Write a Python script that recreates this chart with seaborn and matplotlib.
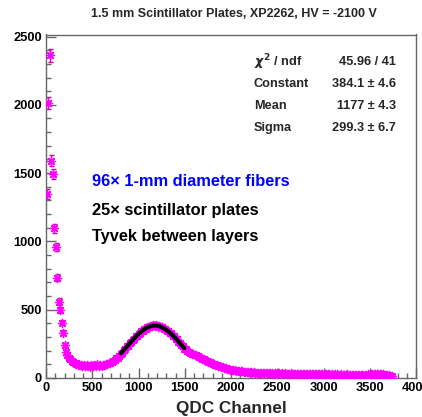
import numpy as np
import pandas as pd
import matplotlib
matplotlib.use("Agg")
import matplotlib.pyplot as plt
from matplotlib.ticker import MultipleLocator
import seaborn as sns

# ---- data (histogram contents, bin width 16 starting at 0) ----
counts = [
    1345, 2015, 2363, 1590, 1495, 1095, 958, 735, 560, 500,
    405, 330, 240, 193, 170, 150, 138, 125, 118, 108,
    101, 96, 104, 92, 88, 97, 85, 93, 90, 84,
    95, 88, 92, 86, 99, 90, 94, 87, 98, 96,
    103, 99, 108, 112, 118, 127, 133, 145, 150, 163,
    178, 186, 207, 212, 231, 236, 258, 262, 281, 285,
    305, 309, 325, 328, 345, 347, 362, 360, 374, 371,
    383, 378, 390, 381, 388, 377, 383, 372, 375, 361,
    362, 346, 347, 329, 327, 310, 306, 287, 284, 263,
    258, 240, 233, 215, 210, 200, 192, 186, 178, 174,
    168, 165, 158, 156, 150, 142, 139, 131, 128, 120,
    118, 111, 106, 103, 96, 94, 88, 85, 80, 79,
    74, 72, 68, 66, 61, 62, 57, 55, 54, 51,
    52, 48, 50, 46, 47, 44, 45, 42, 43, 40,
    41, 38, 40, 37, 39, 35, 38, 36, 34, 37,
    33, 36, 34, 32, 35, 31, 34, 33, 30, 34,
    31, 33, 29, 32, 30, 34, 28, 31, 30, 29,
    32, 28, 30, 27, 31, 29, 28, 30, 26, 29,
    28, 27, 30, 26, 28, 27, 29, 25, 27, 28,
    26, 28, 25, 27, 24, 26, 27, 23, 25, 26,
    24, 25, 23, 26, 22, 24, 25, 22, 24, 23,
    22, 24, 21, 23, 25, 22, 24, 26, 25, 27,
    28, 26, 29, 27, 30, 28, 26, 27, 25, 24,
    22, 20, 18, 16,
]
bin_width = 16
fit_const, fit_mean, fit_sigma = 384.1, 1177.0, 299.3
fit_range = (810, 1495)

title = "1.5 mm Scintillator Plates, XP2262, HV = -2100 V"
xlabel = "QDC Channel"
stats_labels = [r"$\chi^{2}$ / ndf", "Constant", "Mean", "Sigma"]
stats_values = ["45.96 / 41", "384.1 \u00b1 4.6", "1177 \u00b1 4.3", "299.3 \u00b1 6.7"]
notes = ["96\u00d7 1-mm diameter fibers", "25\u00d7 scintillator plates", "Tyvek between layers"]
note_colors = ["#0000ff", "#000000", "#000000"]
xticks = [0, 500, 1000, 1500, 2000, 2500, 3000, 3500, 4000]
yticks = [0, 500, 1000, 1500, 2000, 2500]

# ---- style ----
sns.set_style("ticks")
plt.rcParams['font.family'] = ['Liberation Sans', 'DejaVu Sans']
plt.rcParams['font.weight'] = 'bold'

W, H = 422, 417
fig = plt.figure(figsize=(W / 100, H / 100), dpi=100)
ax = fig.add_axes([46 / W, 39 / H, 370 / W, 343.5 / H])

centers = bin_width * (np.arange(len(counts)) + 0.5)
df = pd.DataFrame({"x": centers, "y": counts})

ax.errorbar(df["x"], df["y"], yerr=np.sqrt(df["y"]), fmt="none",
            ecolor="#d000b0", elinewidth=1.0, capsize=1.8, capthick=1.0, zorder=2)
sns.scatterplot(data=df, x="x", y="y", marker=(8, 2, 0), color="#ff00ff",
                s=34, linewidth=1.0, ax=ax, zorder=3, legend=False)

fx = np.linspace(fit_range[0], fit_range[1], 200)
fy = fit_const * np.exp(-0.5 * ((fx - fit_mean) / fit_sigma) ** 2)
sns.lineplot(x=fx, y=fy, color="black", linewidth=3.0, ax=ax, zorder=10)

ax.set_xlim(0, 4000)
ax.set_ylim(0, 2515)
ax.set_xticks(xticks)
ax.set_yticks(yticks)
ax.xaxis.set_minor_locator(MultipleLocator(100))
ax.yaxis.set_minor_locator(MultipleLocator(100))
ax.tick_params(which="major", direction="in", length=7.5, width=1, color="#666666",
               labelsize=9.3, pad=3, top=False, right=False, labelcolor="black")
ax.tick_params(which="minor", direction="in", length=3.7, width=1, color="#666666",
               top=False, right=False)
for lab in ax.get_xticklabels() + ax.get_yticklabels():
    lab.set_fontweight("bold")
for sp in ax.spines.values():
    sp.set_visible(True)
    sp.set_color("#666666")
    sp.set_linewidth(1.0)
ax.set_xlabel("")
ax.set_ylabel("")

fig.text(231 / W, 1 - 408 / H, xlabel, ha="center", va="center",
         fontsize=12.3, fontweight="bold")
fig.text(233.5 / W, 1 - 14 / H, title, ha="center", va="center",
         fontsize=9, fontweight="bold")

rows_y = [61.7, 84.3, 105.7, 128.3]
for lab, val, yy in zip(stats_labels, stats_values, rows_y):
    fig.text(254 / W, 1 - yy / H, lab, ha="left", va="center", fontsize=9.2, fontweight="bold")
    fig.text(396 / W, 1 - yy / H, val, ha="right", va="center", fontsize=9.2, fontweight="bold")

notes_y = [181, 210, 237]
for txt, col, yy in zip(notes, note_colors, notes_y):
    fig.text(91.7 / W, 1 - yy / H, txt, ha="left", va="center", fontsize=11.8,
             fontweight="bold", color=col)

fig.savefig("out.png", dpi=100)
